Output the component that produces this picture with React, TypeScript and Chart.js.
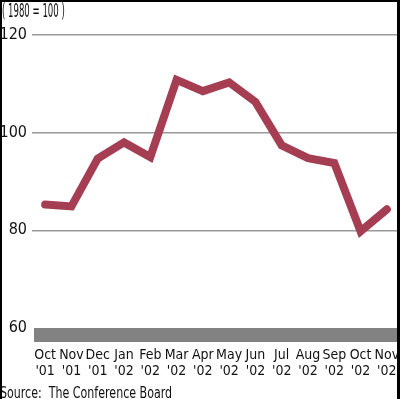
import React, { useEffect, useRef } from "react";
import { Chart, registerables } from "chart.js";

Chart.register(...registerables);

const months = ["Oct", "Nov", "Dec", "Jan", "Feb", "Mar", "Apr", "May", "Jun", "Jul", "Aug", "Sep", "Oct", "Nov"];
const years = ["'01", "'01", "'01", "'02", "'02", "'02", "'02", "'02", "'02", "'02", "'02", "'02", "'02", "'02"];
const confidence = [85.3, 84.9, 94.7, 98.0, 95.0, 110.8, 108.5, 110.3, 106.3, 97.4, 94.8, 93.8, 79.8, 84.3];
const yTicks = [60, 80, 100, 120];
const titleText = "( 1980 = 100 )";
const sourceText = "Source:  The Conference Board";

const FONT = "'DejaVu Sans Condensed', 'Liberation Sans Narrow', sans-serif";

const decorPlugin = {
  id: "decor",
  beforeDatasetsDraw(chart: any) {
    const { ctx, chartArea, scales } = chart;
    const y60 = scales.y.getPixelForValue(yTicks[0]);
    ctx.save();
    ctx.fillStyle = "#828282";
    ctx.fillRect(chartArea.left + 2, y60, chartArea.right - chartArea.left, 14);
    ctx.restore();
  },
  afterDraw(chart: any) {
    const { ctx } = chart;
    ctx.save();
    ctx.fillStyle = "#111";
    ctx.textBaseline = "alphabetic";
    ctx.textAlign = "left";
    ctx.font = `19px ${FONT}`;
    ctx.translate(2, 17);
    ctx.scale(0.5, 1);
    ctx.fillText(titleText, 0, 0);
    ctx.restore();
    ctx.save();
    ctx.fillStyle = "#111";
    ctx.textBaseline = "alphabetic";
    ctx.textAlign = "left";
    ctx.font = `15px ${FONT}`;
    ctx.translate(0, 398);
    ctx.scale(0.82, 1);
    ctx.fillText(sourceText, 0, 0);
    ctx.restore();
  },
};

export default function App() {
  const ref = useRef<HTMLCanvasElement | null>(null);
  useEffect(() => {
    if (!ref.current) return;
    const labels = months.map((m, i) => [m, years[i]]);
    const chart = new Chart(ref.current, {
      type: "line",
      data: {
        labels,
        datasets: [
          {
            data: confidence,
            borderColor: "rgb(165,62,82)",
            borderWidth: 8,
            pointRadius: 0,
            tension: 0,
            borderJoinStyle: "miter",
            borderCapStyle: "round",
            fill: false,
          },
        ],
      },
      options: {
        animation: false,
        responsive: false,
        maintainAspectRatio: false,
        layout: { padding: { top: 35, left: 0, right: 0, bottom: 22 } },
        plugins: { legend: { display: false }, tooltip: { enabled: false }, title: { display: false } },
        scales: {
          x: {
            type: "category",
            offset: true,
            afterFit: (s: any) => {
              s.height = 49;
              s.paddingLeft = 0;
              s.paddingRight = 0;
            },
            grid: { display: false, drawTicks: false },
            border: { display: false },
            ticks: {
              padding: 19,
              maxRotation: 0,
              autoSkip: false,
              color: "#111",
              font: { family: FONT, size: 14, lineHeight: 1.15 },
            },
          },
          y: {
            min: 60,
            max: 120,
            afterFit: (s: any) => {
              s.width = 32;
              s.paddingTop = 0;
              s.paddingBottom = 0;
            },
            afterBuildTicks: (s: any) => {
              s.ticks = yTicks.map((v) => ({ value: v }));
            },
            grid: {
              drawTicks: false,
              lineWidth: 1.6,
              color: (c: any) => (c.tick && c.tick.value === 60 ? "rgba(0,0,0,0)" : "#9a9a9a"),
            },
            border: { display: false },
            ticks: {
              padding: 5,
              color: "#111",
              font: { family: FONT, size: 16 },
            },
          },
        },
      },
      plugins: [decorPlugin],
    });
    return () => chart.destroy();
  }, []);
  return (
    <div style={{ position: "absolute", left: 0, top: 0, width: 400, height: 399, overflow: "hidden", background: "#fff" }}>
      <canvas ref={ref} width={400} height={399} style={{ width: 400, height: 399, display: "block" }} />
      <div
        style={{
          position: "absolute",
          left: 0,
          top: 0,
          width: 400,
          height: 399,
          boxSizing: "border-box",
          borderTop: "2px solid #000",
          borderLeft: "2px solid #000",
          borderRight: "3px solid #000",
          pointerEvents: "none",
        }}
      />
    </div>
  );
}
